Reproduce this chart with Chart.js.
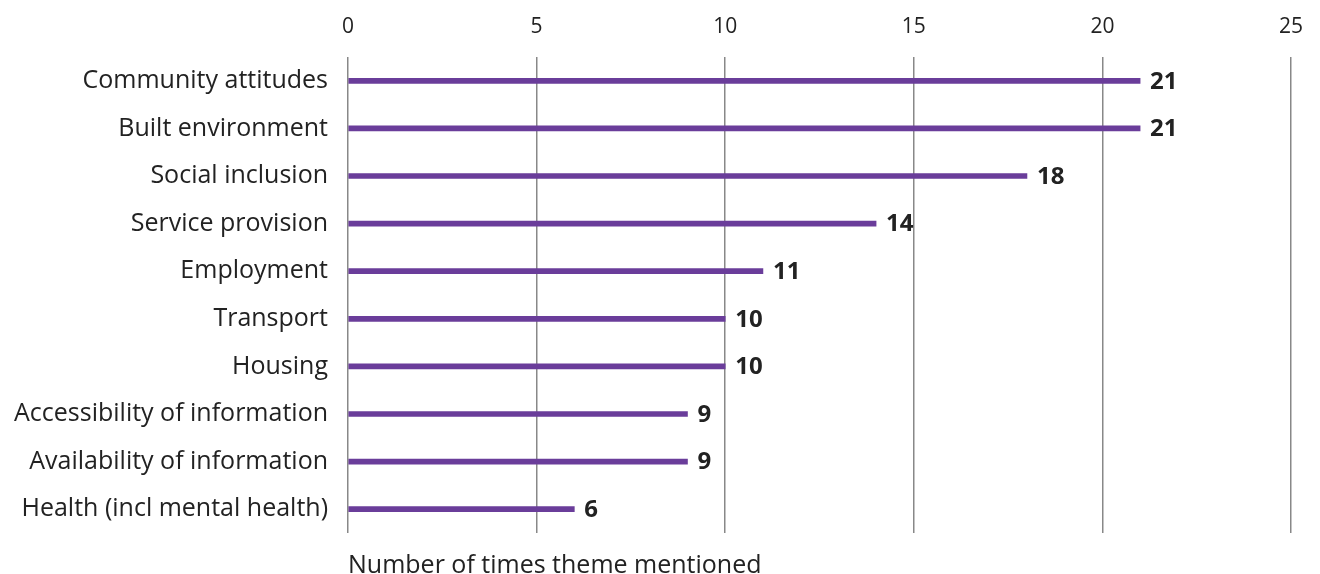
<!DOCTYPE html>
<html>
<head>
<meta charset="utf-8">
<script src="https://cdn.jsdelivr.net/npm/chart.js@4"></script>
<style>
  html, body { margin: 0; padding: 0; background: #fff; }
  #wrap { width: 1320px; height: 574px; }
</style>
</head>
<body>
<div id="wrap"><canvas id="themes-chart" width="1320" height="574"></canvas></div>
<script>
// Themes and how many times each was mentioned
const themes = [
  "Community attitudes",
  "Built environment",
  "Social inclusion",
  "Service provision",
  "Employment",
  "Transport",
  "Housing",
  "Accessibility of information",
  "Availability of information",
  "Health (incl mental health)",
];
const mentions = [21, 21, 18, 14, 11, 10, 10, 9, 9, 6];
const xTicks = [0, 5, 10, 15, 20, 25];
const axisTitle = "Number of times theme mentioned";

const fontFamily = "'Open Sans', Lato, sans-serif";

// draws the bold numbers at the end of each bar
const valueLabels = {
  id: "valueLabels",
  afterDatasetsDraw(chart) {
    const ctx = chart.ctx;
    const meta = chart.getDatasetMeta(0);
    ctx.save();
    ctx.font = "bold 24px " + fontFamily;
    ctx.fillStyle = "#222";
    ctx.textBaseline = "middle";
    ctx.textAlign = "left";
    meta.data.forEach(function (bar, i) {
      ctx.fillText(mentions[i], bar.x + 10, bar.y + 1);
    });
    ctx.restore();
  },
};

new Chart(document.getElementById("themes-chart"), {
  type: "bar",
  data: {
    labels: themes,
    datasets: [
      {
        data: mentions,
        backgroundColor: "#6a3d9a",
        barThickness: 5,
      },
    ],
  },
  options: {
    indexAxis: "y",
    responsive: false,
    animation: false,
    layout: { padding: { left: 0, right: 27, top: 0, bottom: 0 } },
    plugins: {
      legend: { display: false },
      tooltip: { enabled: false },
    },
    scales: {
      x: {
        position: "top",
        min: 0,
        max: 25,
        afterBuildTicks(scale) {
          scale.ticks = xTicks.map((v) => ({ value: v }));
        },
        afterFit(scale) {
          scale.height = 57;
        },
        grid: { color: "#888", lineWidth: 1.5, drawTicks: false },
        border: { display: false },
        ticks: {
          padding: 17,
          color: "#222",
          font: { family: fontFamily, size: 21 },
        },
      },
      xb: {
        type: "linear",
        axis: "x",
        position: "bottom",
        min: 0,
        max: 25,
        afterFit(scale) {
          scale.height = 41;
        },
        grid: { display: false },
        border: { display: false },
        ticks: { display: false },
        title: {
          display: true,
          text: axisTitle,
          align: "start",
          color: "#222",
          padding: { top: 0, bottom: -7 },
          font: { family: fontFamily, size: 25 },
        },
      },
      y: {
        afterFit(scale) {
          scale.width = 348;
        },
        grid: { display: false },
        border: { display: false },
        ticks: {
          padding: 12,
          color: "#222",
          font: { family: fontFamily, size: 25 },
        },
      },
    },
  },
  plugins: [valueLabels],
});
</script>
</body>
</html>
